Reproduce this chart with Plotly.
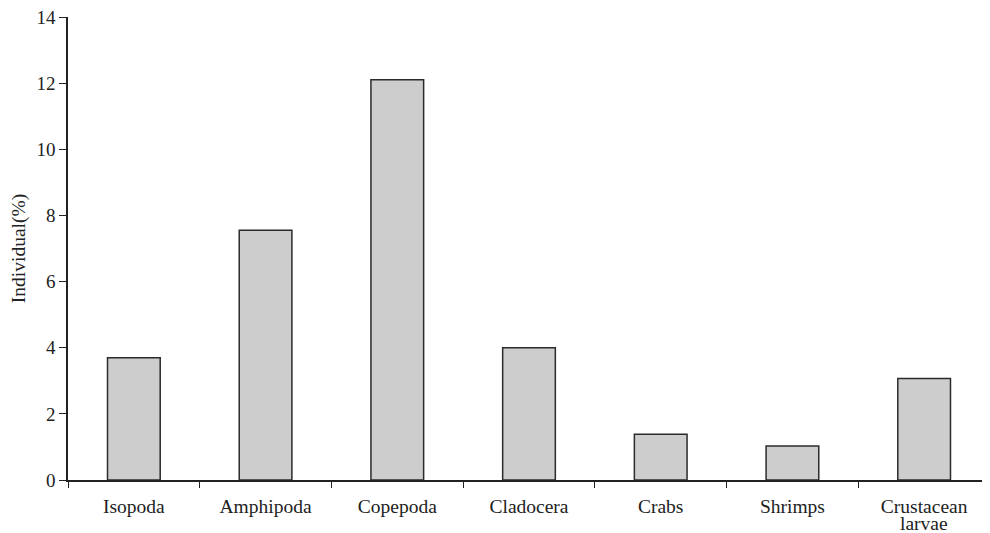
import plotly.graph_objects as go

categories = ["Isopoda", "Amphipoda", "Copepoda", "Cladocera", "Crabs", "Shrimps", "Crustacean larvae"]
tick_labels = ["Isopoda", "Amphipoda", "Copepoda", "Cladocera", "Crabs", "Shrimps", "Crustacean"]
values = [3.7, 7.55, 12.1, 4.0, 1.38, 1.03, 3.07]
y_ticks = [0, 2, 4, 6, 8, 10, 12, 14]

font_family = "Liberation Serif, Times New Roman, serif"

fig = go.Figure(go.Bar(
    x=categories, y=values, width=0.4,
    marker=dict(color="#cdcdcd", line=dict(color="#2b2b2b", width=1.5)),
))

# page body has an 8px default margin: offset the figure accordingly
fig.update_layout(
    width=982, height=525,
    margin=dict(l=60, r=0, t=9, b=53),
    paper_bgcolor="white", plot_bgcolor="white",
    font=dict(family=font_family, size=19, color="#222"),
    showlegend=False,
    xaxis=dict(
        showline=True, linecolor="#222", linewidth=1.5,
        ticks="outside", ticklen=6, tickwidth=1.2, tickcolor="#222",
        tickson="boundaries", showgrid=False, zeroline=False,
        tickvals=categories, ticktext=tick_labels,
        tickfont=dict(size=19.5, family=font_family),
        ticklabelstandoff=8,
        range=[-0.5, 6.5],
    ),
    yaxis=dict(
        range=[0, 14], tickvals=y_ticks,
        showline=True, linecolor="#222", linewidth=1.5,
        ticks="outside", ticklen=7, tickwidth=1.2, tickcolor="#222",
        showgrid=False, zeroline=False,
        ticklabeloverflow="allow",
        tickfont=dict(size=19, family=font_family),
        title=dict(text="Individual(%)", font=dict(size=19.5, family=font_family), standoff=6),
    ),
    annotations=[dict(
        x=categories[-1], y=0, xref="x", yref="y", yshift=-43,
        text="larvae", showarrow=False, yanchor="middle",
        font=dict(size=19.5, family=font_family, color="#222"),
    )],
)

fig.write_html("out.html")
